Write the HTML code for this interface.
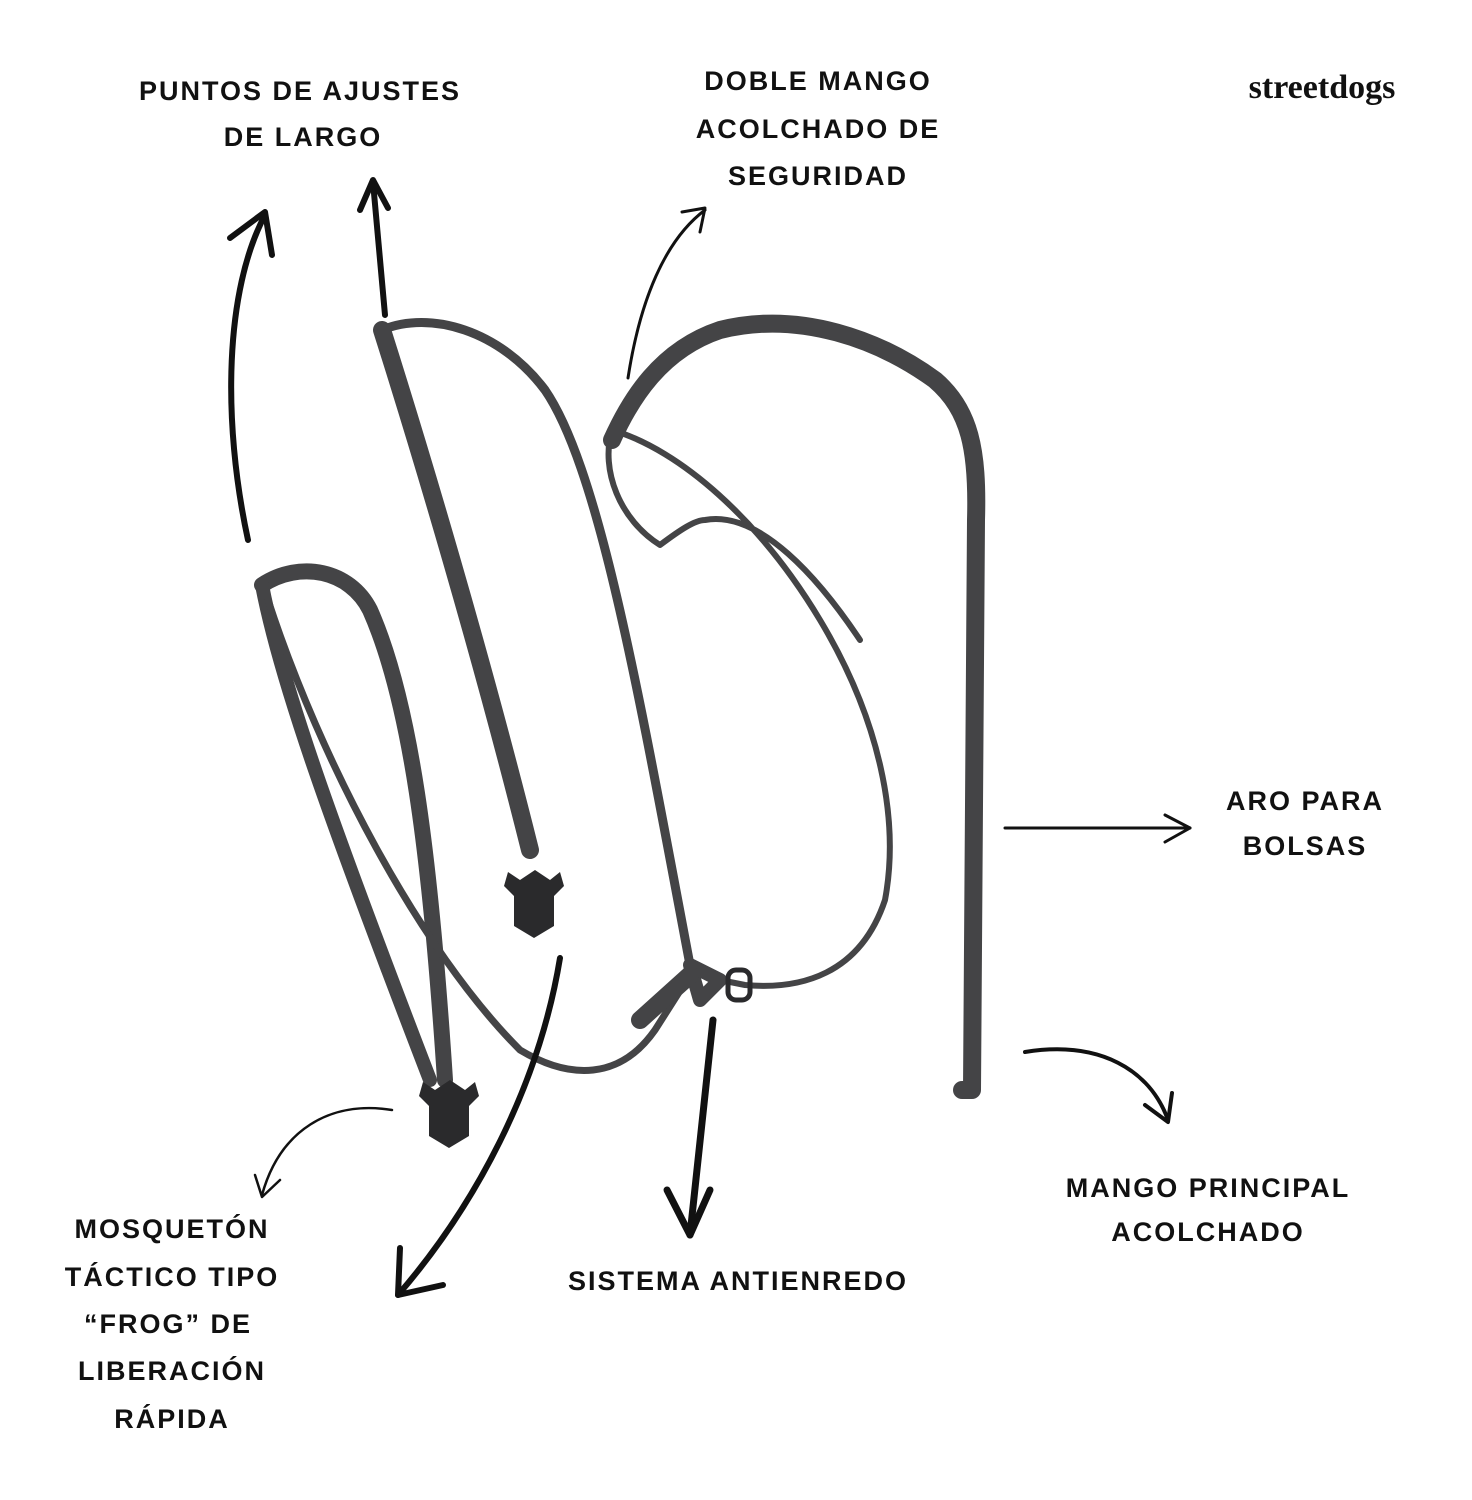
<!DOCTYPE html>
<html><head><meta charset="utf-8"><style>
html,body{margin:0;padding:0;background:#fff;}
svg{display:block}
text{font-family:"Liberation Sans",sans-serif;font-weight:bold;font-size:27px;letter-spacing:2px;fill:#111;text-anchor:middle}
</style></head><body>
<svg width="1472" height="1500" viewBox="0 0 1472 1500">
<rect width="1472" height="1500" fill="#fff"/>
<text x="300" y="100">PUNTOS DE AJUSTES</text>
<text x="303" y="146">DE LARGO</text>
<text x="818" y="90">DOBLE MANGO</text>
<text x="818" y="138">ACOLCHADO DE</text>
<text x="818" y="185">SEGURIDAD</text>
<text x="1322" y="98" style="font-family:'Liberation Serif',serif;font-size:34px;letter-spacing:0;font-weight:bold">streetdogs</text>
<text x="1305" y="810">ARO PARA</text>
<text x="1305" y="855">BOLSAS</text>
<text x="1208" y="1197">MANGO PRINCIPAL</text>
<text x="1208" y="1241">ACOLCHADO</text>
<text x="738" y="1290">SISTEMA ANTIENREDO</text>
<text x="172" y="1238">MOSQUETÓN</text>
<text x="172" y="1286">TÁCTICO TIPO</text>
<text x="168" y="1333">“FROG” DE</text>
<text x="172" y="1380">LIBERACIÓN</text>
<text x="172" y="1428">RÁPIDA</text>
<g fill="none" stroke="#444446" stroke-linecap="round" stroke-linejoin="round">
<path d="M262,585 C300,560 350,570 370,610 C410,700 430,850 445,1080" stroke-width="16"/>
<path d="M262,585 C280,680 330,820 430,1080" stroke-width="14"/>
<path d="M268,600 C320,760 420,950 520,1050 C570,1080 620,1080 655,1030 L690,975" stroke-width="7"/>
<path d="M382,330 C420,450 480,650 530,850" stroke-width="18"/>
<path d="M382,330 C430,310 500,330 545,390 C600,470 640,700 690,965" stroke-width="9"/>
<path d="M720,980 L745,985 C800,990 860,975 885,900 C900,820 880,720 820,620 C760,520 680,450 612,430 C600,470 620,520 660,545 C680,530 695,520 705,520 C760,510 820,580 860,640" stroke-width="6"/>
<path d="M612,440 C630,400 660,350 720,330 C800,310 880,340 935,380 C970,410 978,450 976,520 L972,1090 L962,1090" stroke-width="18"/>
<path d="M690,965 L720,980 L700,1000 Z" stroke-width="14"/>
<path d="M640,1020 L690,975" stroke-width="18"/>
</g>
<g fill="#2a2a2c">
<path d="M520,880 l15,-10 l15,10 l10,-8 l4,14 l-10,10 l0,30 l-20,12 l-20,-12 l0,-30 l-10,-10 l4,-14 z"/>
<path d="M435,1090 l15,-10 l15,10 l10,-8 l4,14 l-10,10 l0,30 l-20,12 l-20,-12 l0,-30 l-10,-10 l4,-14 z"/>
<rect x="728" y="970" width="22" height="30" rx="8" fill="none" stroke="#2a2a2c" stroke-width="5"/>
</g>
<g fill="none" stroke="#111" stroke-linecap="round" stroke-linejoin="round">
<path d="M248,540 C222,420 225,290 265,215" stroke-width="6"/>
<path d="M230,238 L265,212 L272,255" stroke-width="6"/>
<path d="M385,315 L373,182" stroke-width="6"/>
<path d="M360,210 L373,180 L388,208" stroke-width="6"/>
<path d="M628,378 C640,300 665,240 705,210" stroke-width="3"/>
<path d="M682,212 L705,208 L700,232" stroke-width="3"/>
<path d="M560,958 C540,1080 480,1200 398,1295" stroke-width="6"/>
<path d="M400,1248 L398,1295 L443,1285" stroke-width="6"/>
<path d="M713,1020 L690,1235" stroke-width="7"/>
<path d="M667,1190 L690,1235 L710,1190" stroke-width="7"/>
<path d="M1005,828 L1190,828" stroke-width="3"/>
<path d="M1165,815 L1190,828 L1165,842" stroke-width="3"/>
<path d="M1025,1052 C1100,1040 1150,1070 1168,1120" stroke-width="4"/>
<path d="M1145,1105 L1168,1122 L1172,1093" stroke-width="4"/>
<path d="M392,1110 C330,1100 280,1130 262,1195" stroke-width="2.5"/>
<path d="M255,1175 L262,1197 L280,1180" stroke-width="2.5"/>
</g>
</svg>
</body></html>
